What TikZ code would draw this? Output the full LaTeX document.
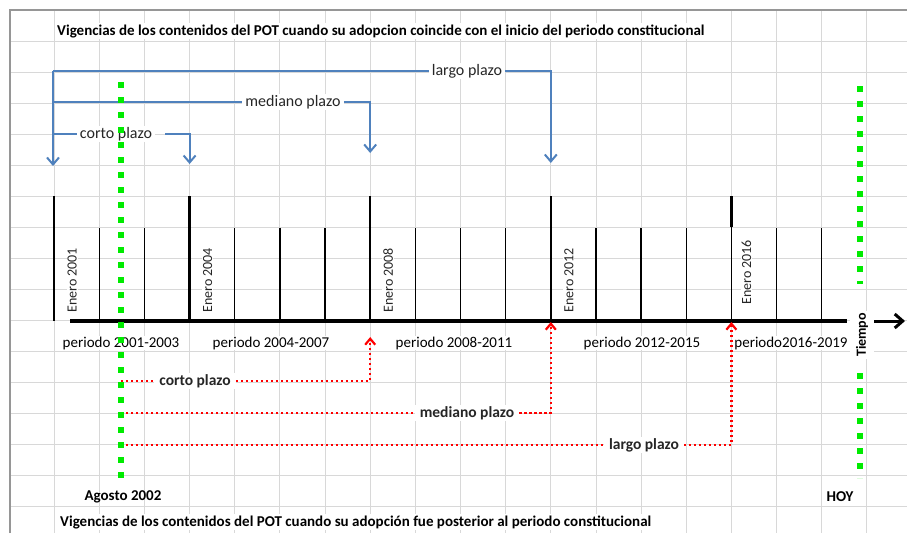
\documentclass[tikz,border=0pt]{standalone}
\usepackage{fontspec}
\setmainfont{Carlito}
\usepackage{tikz}
\usetikzlibrary{%
  calc,
  positioning,
  arrows.meta,
}

\definecolor{gridgray}{RGB}{216,216,216}
\definecolor{framegray}{RGB}{150,150,150}
\definecolor{xlblue}{RGB}{79,129,189}
\definecolor{xlgreen}{RGB}{0,235,0}
\definecolor{xlred}{RGB}{255,0,0}

\tikzset{
  gridline/.style = {gridgray, line width=0.9pt},
  major/.style = {line width=2.4pt},
  minor/.style = {line width=1.3pt},
  axisline/.style = {line width=3.5pt},
  greendots/.style = {xlgreen, line width=6pt,
    dash pattern=on 6pt off 9pt},
  reddots/.style = {xlred, line width=2.2pt,
    dash pattern=on 2.2pt off 2.8pt},
  redarrow/.style = {reddots,
    -{Straight Barb[length=6pt,width=10pt]}},
  blueline/.style = {xlblue, line width=2pt},
  bluearrow/.style = {blueline,
    -{Straight Barb[length=7pt,width=12pt]}},
  title/.style = {anchor=west, fill=white, inner sep=1pt,
    font=\fontsize{15}{17}\selectfont\bfseries},
  periodo/.style = {fill=white, inner sep=1pt,
    font=\fontsize{15}{17}\selectfont},
  enero/.style = {rotate=90, anchor=west, fill=white, inner sep=1pt,
    text=black!85, font=\fontsize{14}{16}\selectfont},
  bluelbl/.style = {fill=white, inner xsep=3pt, inner ysep=1pt,
    text=black!85, font=\fontsize{16}{18}\selectfont},
  redlbl/.style = {fill=white, inner xsep=5pt, inner ysep=1pt,
    text=black!85, font=\fontsize{15.5}{17}\selectfont\bfseries},
  datelbl/.style = {font=\fontsize{15}{17}\selectfont\bfseries},
}

\begin{document}
\begin{tikzpicture}[x=1pt, y=-1pt]
  \useasboundingbox (0,0) rectangle (907,533);

  % spreadsheet cells: 45.15 wide, 31 high
  \foreach \i in {1,...,19}
    \draw[gridline] ({9+45.15*\i},10) -- ({9+45.15*\i},533);
  \foreach \j in {1,...,16}
    \draw[gridline] (10,{10+31*\j}) -- (907,{10+31*\j});
  \draw[framegray, line width=1.5pt]
    (10,533) -- (10,10) -- (907,10);

  \node[title] (titleTop) at (56,31)
    {Vigencias de los contenidos del POT cuando su adopcion coincide con el inicio del periodo constitucional};
  \node[title] (titleBot) at (59,522)
    {Vigencias de los contenidos del POT cuando su adopción fue posterior al periodo constitucional};

  % time line
  \coordinate (axL) at (70,321);
  \coordinate (axR) at (847,321);
  \draw[axisline] (axL) -- (axR);

  \foreach \k in {2,3,5,6,7,9,10,11,13,14,15,17,18}
    \draw[minor] ({9+45.15*\k},321) -- ({9+45.15*\k},228);

  \foreach \k/\yr in {1/2001, 4/2004, 8/2008, 12/2012} {
    \coordinate (t\yr) at ({9+45.15*\k},321);
    \draw[major] (t\yr) -- ++(0,-125);
    \node[enero] (e\yr) at ($(t\yr)+(18,-7)$) {Enero \yr};
  }
  \coordinate (t2016) at ({9+45.15*16},321);
  \draw[minor] (t2016) -- ++(0,-94);
  \draw[major] ($(t2016)+(0,-94)$) -- ++(0,-31);
  \node[enero] (e2016) at ($(t2016)+(15,-15)$) {Enero 2016};

  \node[periodo] (p2001) at (121,343) {periodo 2001-2003};
  \node[periodo] (p2004) at (271,343) {periodo 2004-2007};
  \node[periodo] (p2008) at (454,343) {periodo 2008-2011};
  \node[periodo] (p2012) at (642,343) {periodo 2012-2015};
  \node[periodo] (p2016) at (791,343) {periodo2016-2019};

  \node[rotate=90, fill=white, inner xsep=2pt, inner ysep=6pt,
    font=\fontsize{14}{16}\selectfont\bfseries] (tiempo) at (862,335) {Tiempo};
  \coordinate (tipR) at (905,321);
  \draw[line width=3pt, -{Straight Barb[length=8pt,width=14pt]}]
    (tiempo.south |- axR) -- (tipR);

  % adoption at the start of the period
  \coordinate (busT) at (53,71);
  \coordinate (busB) at (53,166);
  \node[bluelbl] (largoB) at (467,71) {largo plazo};
  \node[bluelbl] (medianoB) at (293,102) {mediano plazo};
  \node[bluelbl] (cortoB) at (116,134) {corto plazo};
  \coordinate (bC) at ($(t2004)+(0,-157)$);
  \coordinate (bM) at ($(t2008)+(0,-168)$);
  \coordinate (bL) at ($(t2012)+(0,-158)$);

  \draw[bluearrow] (busT) -- (busB);
  \draw[blueline] (busT) -- (largoB.west);
  \draw[blueline] (busT |- medianoB) -- (medianoB.west);
  \draw[blueline] (busT |- cortoB) -- (cortoB.west);
  \draw[bluearrow] (largoB.east) -| (bL);
  \draw[bluearrow] (medianoB.east) -| (bM);
  \draw[bluearrow] ($(cortoB.east)+(10,0)$) -| (bC);

  % adoption later: Agosto 2002
  \node[datelbl] (agosto) at (123,497) {Agosto 2002};
  \node[datelbl] (hoy) at (840,497) {HOY};
  \coordinate (gTop) at (121,82);
  \coordinate (gBot) at (121,478);
  \coordinate (hTop) at (860,86);
  \coordinate (hBot) at (860,478);

  \node[redlbl] (cortoR) at (195,381) {corto plazo};
  \node[redlbl] (medianoR) at (467,413) {mediano plazo};
  \node[redlbl] (largoR) at (644,445) {largo plazo};
  \coordinate (rC) at ($(t2008)+(0,16)$);
  \coordinate (rM) at ($(t2012)+(0,1)$);
  \coordinate (rL) at ($(t2016)+(0,1)$);

  \draw[reddots] (gTop |- cortoR) -- (cortoR.west);
  \draw[reddots] (gTop |- medianoR) -- (medianoR.west);
  \draw[reddots] (gTop |- largoR) -- (largoR.west);
  \draw[redarrow] (cortoR.east) -| (rC);
  \draw[redarrow] (medianoR.east) -| (rM);
  \draw[redarrow] (largoR.east) -| (rL);

  \draw[greendots] (gTop) -- (gBot);
  \draw[greendots] (hTop) -- (hTop |- 0,284);
  \draw[greendots] (hBot |- 0,373) -- (hBot);
\end{tikzpicture}
\end{document}
